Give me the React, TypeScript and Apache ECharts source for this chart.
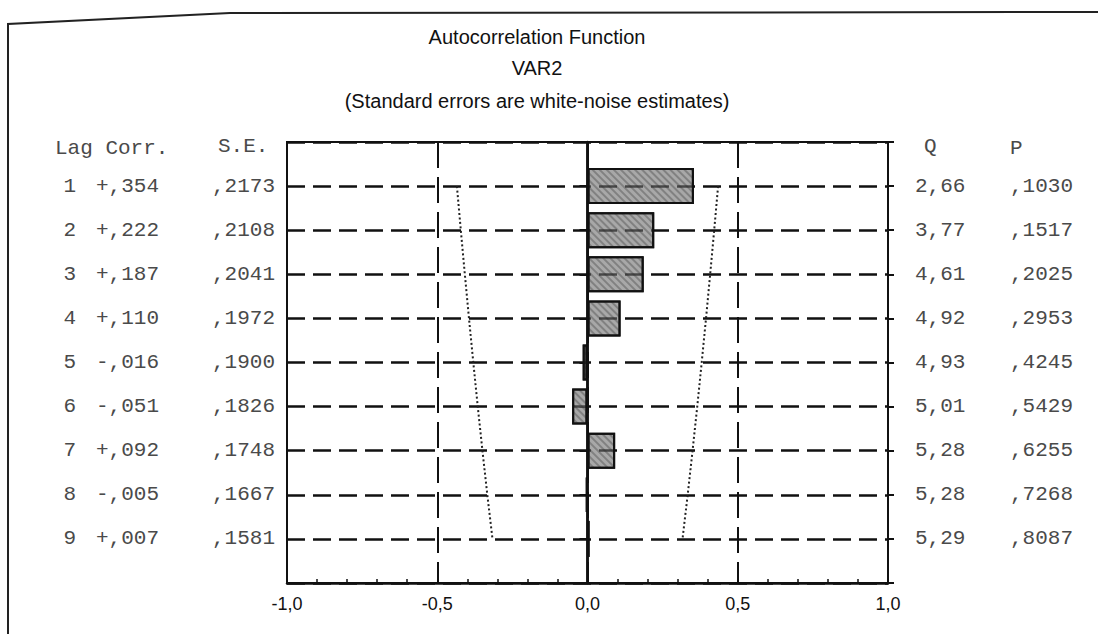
import React, { useEffect, useRef } from "react";
import * as echarts from "echarts";

const lags = [1, 2, 3, 4, 5, 6, 7, 8, 9];
const corr = [0.354, 0.222, 0.187, 0.11, -0.016, -0.051, 0.092, -0.005, 0.007];
const stdErr = [0.2173, 0.2108, 0.2041, 0.1972, 0.19, 0.1826, 0.1748, 0.1667, 0.1581];
const qStat = [2.66, 3.77, 4.61, 4.92, 4.93, 5.01, 5.28, 5.28, 5.29];
const pVal = [0.103, 0.1517, 0.2025, 0.2953, 0.4245, 0.5429, 0.6255, 0.7268, 0.8087];
const xTicks = [-1, -0.5, 0, 0.5, 1];
// row slots: an empty slot above lag 1 and below lag 9
const rowSlots = ["0", ...lags.map(String), "10"];

const titleLines = [
  "Autocorrelation Function",
  "VAR2",
  "(Standard errors are white-noise estimates)",
];

const MONO = '"Liberation Mono", "DejaVu Sans Mono", monospace';
const SANS = '"Liberation Sans", Arial, sans-serif';
const TXT = "#4a4a4a";

const fmtCorr = (v: number) =>
  (v < 0 ? "-" : "+") + "," + Math.round(Math.abs(v) * 1000).toString().padStart(3, "0");
const fmtSE = (v: number) => "," + Math.round(v * 10000).toString().padStart(4, "0");
const fmtQ = (v: number) => v.toFixed(2).replace(".", ",");
const fmtX = (v: number) => v.toFixed(1).replace(".", ",");

const rowLabel = (arr: string[]) => (v: string) => {
  const i = lags.indexOf(Number(v));
  return i >= 0 ? arr[i] : "";
};

export default function App() {
  const ref = useRef<HTMLDivElement>(null);
  useEffect(() => {
    if (!ref.current) return;
    const chart = echarts.init(ref.current, null, { renderer: "svg" });
    const baseY = {
      type: "category" as const,
      data: rowSlots,
      boundaryGap: false,
      inverse: true,
      splitLine: { show: false },
      axisTick: { show: false },
      axisLine: { show: false },
    };
    const labelStyle = { fontFamily: MONO, fontSize: 21, color: TXT, interval: 0 };
    const dashH = { color: "#111", width: 2.5, type: [18, 8] };
    const dotted = { color: "#222", width: 2, type: [2, 2.5] };
    chart.setOption({
      animation: false,
      backgroundColor: "#fff",
      grid: {
        left: 287,
        right: 210,
        top: 142,
        bottom: 51,
        show: true,
        borderColor: "#111",
        borderWidth: 2,
        containLabel: false,
      },
      xAxis: {
        type: "value",
        min: -1,
        max: 1,
        interval: 0.5,
        axisLine: { show: true, lineStyle: { color: "#111", width: 2.5 } },
        axisTick: { show: true, inside: true, length: 4, lineStyle: { color: "#111", width: 1.5 } },
        minorTick: { show: true, splitNumber: 5, length: 4, lineStyle: { color: "#111", width: 1.5 } },
        axisLabel: {
          formatter: (v: number) => (xTicks.includes(v) ? fmtX(v) : ""),
          fontFamily: SANS,
          fontSize: 18,
          color: "#111",
          margin: 12,
        },
        splitLine: { show: true, lineStyle: { color: "#111", width: 2, type: [26, 9] } },
      },
      yAxis: [
        {
          ...baseY,
          position: "left",
          axisLine: { show: true, lineStyle: { color: "#111", width: 2.5 } },
          axisTick: { show: true, interval: 0, length: 8, lineStyle: { color: "#111", width: 2 } },
          axisLabel: { ...labelStyle, margin: 12, formatter: rowLabel(stdErr.map(fmtSE)) },
          splitLine: { show: true, interval: 0, lineStyle: dashH },
        },
        {
          ...baseY,
          position: "left",
          offset: 120,
          axisLabel: { ...labelStyle, margin: 8, formatter: rowLabel(corr.map(fmtCorr)) },
        },
        {
          ...baseY,
          position: "left",
          offset: 203,
          axisLabel: { ...labelStyle, margin: 8, formatter: rowLabel(lags.map(String)) },
        },
        {
          ...baseY,
          position: "right",
          axisTick: { show: true, interval: 0, length: 6, lineStyle: { color: "#111", width: 2 } },
          axisLabel: { ...labelStyle, margin: 27, formatter: rowLabel(qStat.map(fmtQ)) },
        },
        {
          ...baseY,
          position: "right",
          offset: 95,
          axisLabel: { ...labelStyle, margin: 27, formatter: rowLabel(pVal.map(fmtSE)) },
        },
      ],
      series: [
        {
          type: "bar",
          yAxisIndex: 0,
          data: corr.map((c, i) => [c, String(lags[i])]),
          barWidth: 36,
          itemStyle: {
            color: "rgba(110,110,110,0.6)",
            borderColor: "#111",
            borderWidth: 2,
            decal: {
              symbol: "rect",
              symbolSize: 1,
              dashArrayX: [1, 0],
              dashArrayY: [2, 3],
              rotation: Math.PI / 4,
              color: "rgba(40,40,40,0.3)",
            },
          },
          markLine: {
            silent: true,
            symbol: "none",
            label: { show: false },
            lineStyle: { color: "#111", width: 2.5, type: "solid" },
            data: [{ xAxis: 0 }],
          },
          z: 3,
        },
        {
          type: "line",
          yAxisIndex: 0,
          data: stdErr.map((s, i) => [-2 * s, String(lags[i])]),
          symbol: "none",
          lineStyle: dotted,
          z: 4,
        },
        {
          type: "line",
          yAxisIndex: 0,
          data: stdErr.map((s, i) => [2 * s, String(lags[i])]),
          symbol: "none",
          lineStyle: dotted,
          z: 4,
        },
      ],
      graphic: [
        {
          type: "polyline",
          shape: { points: [[8, 634], [8, 24], [230, 13], [1098, 12]] },
          style: { stroke: "#222", lineWidth: 2, fill: "none" },
        },
        ...titleLines.map((t, i) => ({
          type: "text",
          x: 537,
          y: [37, 68, 101][i],
          style: {
            text: t,
            font: `20px ${SANS}`,
            fill: "#111",
            textAlign: "center",
            textVerticalAlign: "middle",
          },
        })),
        { type: "text", x: 55, y: 148, style: { text: "Lag Corr.", font: `21px ${MONO}`, fill: TXT, textVerticalAlign: "middle" } },
        { type: "text", x: 218, y: 146, style: { text: "S.E.", font: `21px ${MONO}`, fill: TXT, textVerticalAlign: "middle" } },
        { type: "text", x: 924, y: 146, style: { text: "Q", font: `21px ${MONO}`, fill: TXT, textVerticalAlign: "middle" } },
        { type: "text", x: 1010, y: 148, style: { text: "P", font: `21px ${MONO}`, fill: TXT, textVerticalAlign: "middle" } },
      ],
    });
    return () => chart.dispose();
  }, []);
  return (
    <div
      ref={ref}
      style={{ position: "absolute", left: 0, top: 0, width: 1098, height: 634 }}
    />
  );
}
